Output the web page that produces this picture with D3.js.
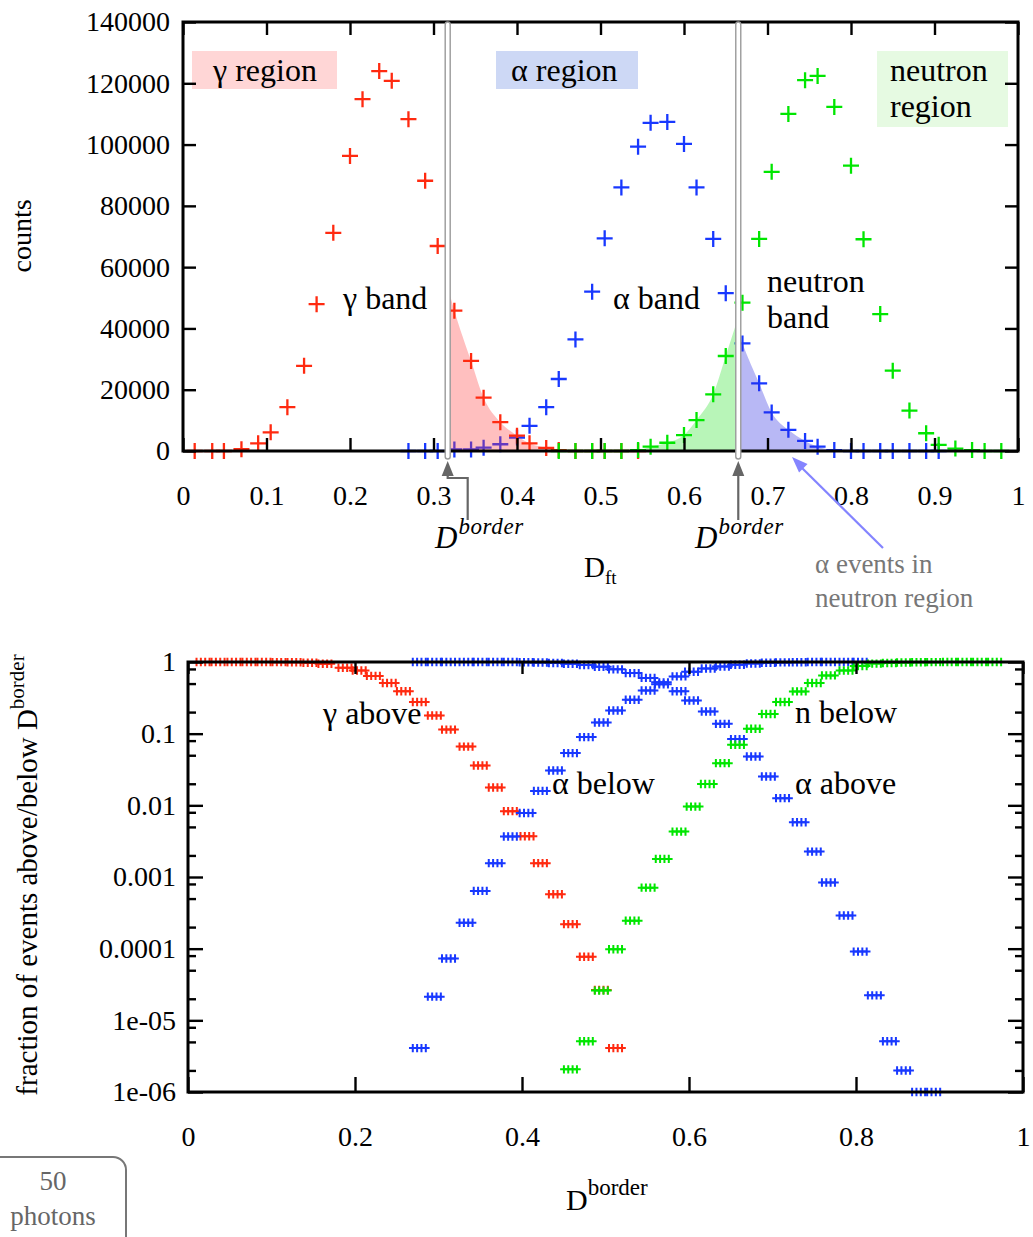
<!DOCTYPE html>
<html><head><meta charset="utf-8">
<script src="https://cdn.jsdelivr.net/npm/d3@7"></script>
<style>
body{margin:0;background:#fff}
svg{display:block}
text{font-family:"Liberation Serif","Times New Roman",serif}
</style>
</head><body>
<svg id="c" width="1033" height="1237"></svg>
<script>
// ---------------- DATA ----------------
// top panel: counts vs D_ft  ([D_ft, counts])
const gammaCounts = [[0.014,0],[0.035,0],[0.049,0],[0.070,600],[0.090,2500],[0.105,6100],[0.125,14300],[0.145,27800],[0.160,47900],[0.180,71200],[0.200,96300],[0.215,114800],[0.235,124000],[0.250,120800],[0.270,108300],[0.290,88200],[0.305,66900],[0.325,45800],[0.345,29400],[0.360,17400],[0.380,9400],[0.400,5000],[0.415,2500],[0.435,1000],[0.450,300],[0.470,0],[0.490,0],[0.505,0],[0.525,0],[0.545,0]];
const alphaCounts = [[0.270,0],[0.290,0],[0.305,0],[0.325,500],[0.345,500],[0.360,1100],[0.380,2200],[0.400,4400],[0.415,8200],[0.435,14300],[0.450,23500],[0.470,36400],[0.490,52000],[0.505,69400],[0.525,86000],[0.545,99300],[0.560,107100],[0.580,107400],[0.600,100200],[0.615,86000],[0.635,69200],[0.650,51500],[0.670,35100],[0.690,22100],[0.705,12600],[0.725,6900],[0.745,3300],[0.760,1400],[0.780,300],[0.800,0],[0.815,0],[0.835,0],[0.850,0],[0.870,0],[0.890,0],[0.905,0]];
const neutronCounts = [[0.450,0],[0.470,0],[0.490,0],[0.505,0],[0.525,0],[0.545,300],[0.560,1400],[0.580,2700],[0.600,5200],[0.615,10100],[0.635,18500],[0.650,31000],[0.670,48400],[0.690,69200],[0.705,91100],[0.725,110000],[0.745,121000],[0.760,122400],[0.780,112300],[0.800,93100],[0.815,69100],[0.835,44700],[0.850,26200],[0.870,13200],[0.890,5800],[0.905,2000],[0.925,800],[0.945,300],[0.960,0],[0.980,0]];
const borders = [0.317, 0.665];
const topXTicks = [0,0.1,0.2,0.3,0.4,0.5,0.6,0.7,0.8,0.9,1];
const topXTickLabels = ["0","0.1","0.2","0.3","0.4","0.5","0.6","0.7","0.8","0.9","1"];
const topYTicks = [0,20000,40000,60000,80000,100000,120000,140000];
const topYTickLabels = ["0","20000","40000","60000","80000","100000","120000","140000"];

// bottom panel: fraction of events above/below D_border ([D_border, fraction])
const gammaAbove = [[0.018,1],[0.036,1],[0.055,1],[0.073,1],[0.091,1],[0.109,0.995],[0.127,0.99],[0.146,0.975],[0.164,0.946],[0.188,0.83],[0.205,0.76],[0.222,0.64],[0.241,0.51],[0.258,0.39],[0.277,0.276],[0.295,0.179],[0.312,0.114],[0.333,0.066],[0.350,0.036],[0.368,0.0177],[0.386,0.0083],[0.406,0.0037],[0.422,0.00156],[0.440,0.000575],[0.458,0.00022],[0.477,7.7e-5],[0.495,2.65e-5],[0.512,4.1e-6]];
const alphaBelow = [[0.277,4.1e-6],[0.295,2.14e-5],[0.312,7.3e-5],[0.333,2.3e-4],[0.350,6.4e-4],[0.368,0.00156],[0.386,0.00367],[0.405,0.0078],[0.422,0.0159],[0.440,0.0306],[0.458,0.0536],[0.477,0.0896],[0.495,0.143],[0.512,0.211],[0.532,0.297],[0.551,0.40],[0.567,0.52],[0.588,0.63],[0.603,0.73],[0.623,0.81],[0.640,0.863],[0.658,0.916],[0.677,0.952],[0.695,0.975],[0.712,0.987],[0.732,0.994],[0.750,0.998],[0.767,1],[0.788,1],[0.805,1]];
const alphaAbove = [[0.277,1],[0.295,1],[0.312,1],[0.333,1],[0.350,1],[0.368,1],[0.386,0.998],[0.405,0.992],[0.422,0.984],[0.440,0.97],[0.458,0.946],[0.477,0.91],[0.495,0.86],[0.512,0.79],[0.532,0.70],[0.551,0.60],[0.567,0.49],[0.588,0.39],[0.603,0.29],[0.623,0.204],[0.640,0.137],[0.658,0.084],[0.677,0.048],[0.695,0.0252],[0.712,0.0126],[0.732,0.0058],[0.750,0.00226],[0.767,0.00084],[0.788,0.00029],[0.805,9.1e-5],[0.822,2.23e-5],[0.840,5.1e-6],[0.857,2.0e-6],[0.875,1e-6],[0.893,1e-6]];
const neutronBelow = [[0.458,2.07e-6],[0.477,5.1e-6],[0.495,2.6e-5],[0.512,9.8e-5],[0.532,2.46e-4],[0.551,7.1e-4],[0.568,0.00179],[0.588,0.0043],[0.605,0.0096],[0.622,0.0198],[0.640,0.0388],[0.658,0.070],[0.677,0.117],[0.695,0.188],[0.712,0.276],[0.732,0.389],[0.750,0.51],[0.767,0.65],[0.788,0.76],[0.805,0.88],[0.822,0.95],[0.840,0.97],[0.857,0.985],[0.875,0.99],[0.893,0.995],[0.912,1],[0.930,1],[0.948,1],[0.966,1]];
const botXTicks = [0,0.2,0.4,0.6,0.8,1];
const botXTickLabels = ["0","0.2","0.4","0.6","0.8","1"];
const botYTicks = [1e-6,1e-5,1e-4,1e-3,1e-2,1e-1,1];
const botYTickLabels = ["1e-06","1e-05","0.0001","0.001","0.01","0.1","1"];
const botYMinorMantissas = [2,5,8];

// ---------------- STYLE ----------------
const RED = "#ff2a10", BLUE = "#1838ff", GREEN = "#00e600";
const FONT = '"Liberation Serif","Times New Roman",serif';
const svg = d3.select("#c");

function styleAxis(g, fs){
  g.select(".domain").remove();
  g.selectAll(".tick line").attr("stroke","#000").attr("stroke-width",2.4);
  g.selectAll("text").attr("font-family",FONT).attr("font-size",fs).attr("fill","#000");
  g.attr("font-family",null).attr("font-size",null);
}

// ================= TOP PANEL =================
const T = {l:183, r:1018, t:22, b:451};
const xT = d3.scaleLinear().domain([0,1]).range([T.l,T.r]);
const yT = d3.scaleLinear().domain([0,140000]).range([T.b,T.t]);

// region boxes
function regionBox(x0,y0,w,h,fill){ svg.append("rect").attr("x",x0).attr("y",y0).attr("width",w).attr("height",h).attr("fill",fill); }
regionBox(192,51,145,38,"#ffd6d6");
regionBox(496,51,142,38,"#cdd8f5");
regionBox(877,51,131,76,"#e6fae2");
const lab = (x,y,t,fs,anchor,fill)=>svg.append("text").attr("x",x).attr("y",y).attr("font-family",FONT).attr("font-size",fs||32).attr("text-anchor",anchor||"start").attr("fill",fill||"#000").text(t);
lab(213,81,"γ region",32);
lab(511,81,"α region",32);
lab(890,81,"neutron",32);
lab(890,117,"region",32);

// clip paths for shaded areas
const defs = svg.append("defs");
defs.append("clipPath").attr("id","clipMid").append("rect")
  .attr("x",xT(borders[0])).attr("y",T.t).attr("width",xT(borders[1])-xT(borders[0])).attr("height",T.b-T.t);
defs.append("clipPath").attr("id","clipRight").append("rect")
  .attr("x",xT(borders[1])).attr("y",T.t).attr("width",T.r-xT(borders[1])).attr("height",T.b-T.t);

const area = d3.area().x(d=>xT(d[0])).y0(yT(0)).y1(d=>yT(d[1])).curve(d3.curveMonotoneX);

const cross = (s)=>`M${-s},0H${s}M0,${-s}V${s}`;
function drawCrosses(data, color, s, sw, xs, ys){
  svg.append("g").selectAll("path").data(data).join("path")
    .attr("transform",d=>`translate(${xs(d[0])},${ys(d[1])})`)
    .attr("d",cross(s)).attr("stroke",color).attr("stroke-width",sw).attr("fill","none");
}

// blue crosses first (appear purple under the red shading)
drawCrosses(alphaCounts, BLUE, 8, 2.3, xT, yT);
svg.append("path").datum(gammaCounts).attr("clip-path","url(#clipMid)").attr("d",area).attr("fill","rgba(255,60,60,0.33)");
svg.append("path").datum(neutronCounts).attr("clip-path","url(#clipMid)").attr("d",area).attr("fill","rgba(40,225,40,0.33)");
svg.append("path").datum(alphaCounts).attr("clip-path","url(#clipRight)").attr("d",area).attr("fill","rgba(40,40,225,0.33)");
drawCrosses(gammaCounts, RED, 8, 2.3, xT, yT);
drawCrosses(neutronCounts, GREEN, 8, 2.3, xT, yT);

// axes
const gxb = svg.append("g").attr("transform",`translate(0,${T.b})`)
  .call(d3.axisBottom(xT).tickValues(topXTicks).tickFormat((d,i)=>topXTickLabels[i]).tickSize(-13).tickPadding(34));
styleAxis(gxb,28);
const gxt = svg.append("g").attr("transform",`translate(0,${T.t})`)
  .call(d3.axisTop(xT).tickValues(topXTicks).tickFormat("").tickSize(-13));
styleAxis(gxt,28);
const gyl = svg.append("g").attr("transform",`translate(${T.l},0)`)
  .call(d3.axisLeft(yT).tickValues(topYTicks).tickFormat((d,i)=>topYTickLabels[i]).tickSize(-13).tickPadding(13));
styleAxis(gyl,28);
const gyr = svg.append("g").attr("transform",`translate(${T.r},0)`)
  .call(d3.axisRight(yT).tickValues(topYTicks).tickFormat("").tickSize(-13));
styleAxis(gyr,28);
svg.append("rect").attr("x",T.l).attr("y",T.t).attr("width",T.r-T.l).attr("height",T.b-T.t)
  .attr("fill","none").attr("stroke","#000").attr("stroke-width",3);

// border lines
borders.forEach(b=>{
  svg.append("rect").attr("x",xT(b)-2.5).attr("y",T.t).attr("width",5).attr("height",T.b-T.t+8)
    .attr("rx",2.5).attr("fill","#fff").attr("stroke","#9a9a9a").attr("stroke-width",1.4);
});

// arrows under borders
function arrowHead(x,y,color){
  svg.append("path").attr("d",`M${x},${y}L${x-6},${y+15}L${x+6},${y+15}Z`).attr("fill",color);
}
const b0 = xT(borders[0]), b1 = xT(borders[1]);
arrowHead(b0,461,"#666");
svg.append("path").attr("d",`M${b0},475V478H${b0+20}V520`).attr("fill","none").attr("stroke","#666").attr("stroke-width",2.2);
arrowHead(b1,461,"#666");
svg.append("path").attr("d",`M${b1},475V520`).attr("fill","none").attr("stroke","#666").attr("stroke-width",2.2);

function dBorder(x,y){
  const t = svg.append("text").attr("x",x).attr("y",y).attr("font-family",FONT).attr("font-style","italic").attr("font-size",31);
  t.append("tspan").text("D");
  t.append("tspan").attr("dy",-14).attr("font-size",23).attr("dx",1).attr("letter-spacing",0.6).text("border");
}
dBorder(435,548);
dBorder(695,548);

// D_ft label
{
  const t = svg.append("text").attr("x",584).attr("y",577).attr("font-family",FONT).attr("font-size",29);
  t.append("tspan").text("D");
  t.append("tspan").attr("dy",7).attr("font-size",19).text("ft");
}
// counts label
svg.append("text").attr("transform","translate(31,236) rotate(-90)").attr("text-anchor","middle").attr("font-family",FONT).attr("font-size",28).text("counts");

// band labels
lab(343,309,"γ band",32);
lab(613,309,"α band",32);
lab(767,292,"neutron",32);
lab(767,328,"band",32);

// blue annotation arrow
{
  const x1=883,y1=548,x2=792,y2=457;
  svg.append("line").attr("x1",x1).attr("y1",y1).attr("x2",x2+8).attr("y2",y2+9).attr("stroke","#8484ff").attr("stroke-width",2.2);
  const ang = Math.atan2(y2-y1,x2-x1);
  const L=16,Wd=6;
  const bx=x2-L*Math.cos(ang), by=y2-L*Math.sin(ang);
  const px=-Math.sin(ang)*Wd, py=Math.cos(ang)*Wd;
  svg.append("path").attr("d",`M${x2},${y2}L${bx+px},${by+py}L${bx-px},${by-py}Z`).attr("fill","#8484ff");
}
lab(815,573,"α events in",27,"start","#777");
lab(815,607,"neutron region",27,"start","#777");

// ================= BOTTOM PANEL =================
const B = {l:188, r:1023, t:662, b:1092};
const xB = d3.scaleLinear().domain([0,1]).range([B.l,B.r]);
const yB = d3.scaleLog().domain([1e-6,1]).range([B.b,B.t]);
const subOffsets = [-0.0078,-0.0026,0.0026,0.0078];
function expand(series){ const out=[]; series.forEach(([x,v])=>subOffsets.forEach(o=>out.push([x+o,v]))); return out; }
function drawSmall(series,color){
  svg.append("g").selectAll("path").data(expand(series)).join("path")
    .attr("transform",d=>`translate(${xB(d[0])},${yB(d[1])})`)
    .attr("d","M-3.8,0H3.8M0,-4.2V4.2").attr("stroke",color).attr("stroke-width",2).attr("fill","none");
}
drawSmall(gammaAbove,RED);
drawSmall(alphaBelow,BLUE);
drawSmall(alphaAbove,BLUE);
drawSmall(neutronBelow,GREEN);

const minorTicks = [];
botYTicks.slice(0,-1).forEach(p=>botYMinorMantissas.forEach(m=>minorTicks.push(p*m)));

const bxb = svg.append("g").attr("transform",`translate(0,${B.b})`)
  .call(d3.axisBottom(xB).tickValues(botXTicks).tickFormat((d,i)=>botXTickLabels[i]).tickSize(-15).tickPadding(34));
styleAxis(bxb,28);
const bxt = svg.append("g").attr("transform",`translate(0,${B.t})`)
  .call(d3.axisTop(xB).tickValues(botXTicks).tickFormat("").tickSize(-12));
styleAxis(bxt,28);
const byl = svg.append("g").attr("transform",`translate(${B.l},0)`)
  .call(d3.axisLeft(yB).tickValues(botYTicks).tickFormat((d,i)=>botYTickLabels[i]).tickSize(-15).tickPadding(12));
styleAxis(byl,28);
const bylm = svg.append("g").attr("transform",`translate(${B.l},0)`)
  .call(d3.axisLeft(yB).tickValues(minorTicks).tickFormat("").tickSize(-8));
styleAxis(bylm,28);
const byr = svg.append("g").attr("transform",`translate(${B.r},0)`)
  .call(d3.axisRight(yB).tickValues(botYTicks).tickFormat("").tickSize(-15));
styleAxis(byr,28);
const byrm = svg.append("g").attr("transform",`translate(${B.r},0)`)
  .call(d3.axisRight(yB).tickValues(minorTicks).tickFormat("").tickSize(-8));
styleAxis(byrm,28);
svg.append("rect").attr("x",B.l).attr("y",B.t).attr("width",B.r-B.l).attr("height",B.b-B.t)
  .attr("fill","none").attr("stroke","#000").attr("stroke-width",3);

// curve labels
lab(323,724,"γ above",32);
lab(552,794,"α below",32);
lab(795,723,"n below",32);
lab(795,794,"α above",32);

// axis labels
{
  const t = svg.append("text").attr("transform","translate(37,875) rotate(-90)").attr("text-anchor","middle").attr("font-family",FONT).attr("font-size",29);
  t.append("tspan").text("fraction of events above/below D");
  t.append("tspan").attr("dy",-13).attr("font-size",21).text("border");
}
{
  const t = svg.append("text").attr("x",566).attr("y",1210).attr("font-family",FONT).attr("font-size",30);
  t.append("tspan").text("D");
  t.append("tspan").attr("dy",-15).attr("font-size",23).text("border");
}

// 50 photons box
svg.append("rect").attr("x",-12).attr("y",1157).attr("width",138).attr("height",100).attr("rx",13)
  .attr("fill","none").attr("stroke","#777").attr("stroke-width",2);
lab(53,1190,"50",27,"middle","#666");
lab(53,1225,"photons",27,"middle","#666");
</script>
</body></html>
